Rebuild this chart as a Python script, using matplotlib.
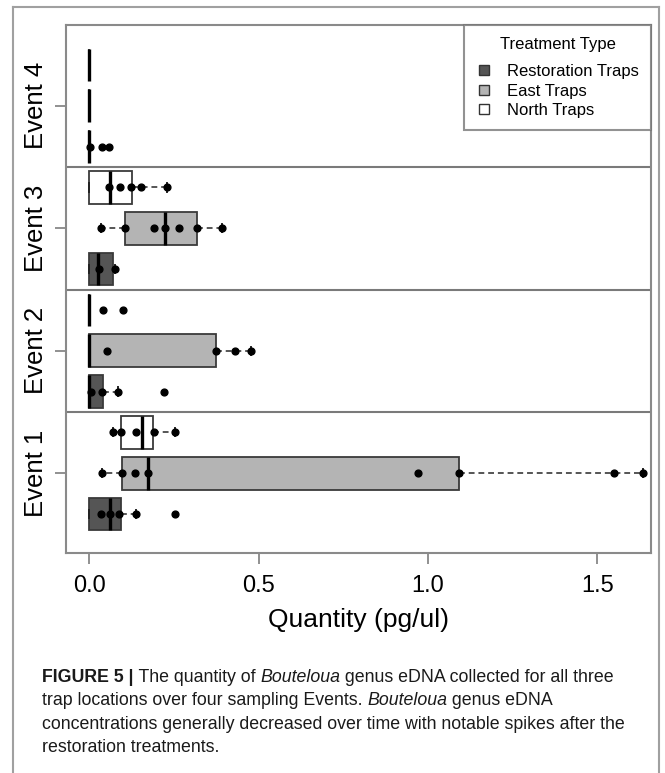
import matplotlib
matplotlib.use("Agg")
import matplotlib.pyplot as plt
from matplotlib.lines import Line2D
from matplotlib.text import Annotation
from matplotlib import font_manager as fm

# ---------------- data ----------------
events = ["Event 1", "Event 2", "Event 3", "Event 4"]
treatments = ["Restoration Traps", "East Traps", "North Traps"]
fill_colors = ["#555555", "#b4b4b4", "#ffffff"]

# box statistics, per event, order: Restoration, East, North
q1 = [[0.000, 0.096, 0.093], [0.000, 0.000, 0.000], [0.000, 0.106, 0.000], [0.0, 0.0, 0.0]]
med = [[0.062, 0.173, 0.157], [0.000, 0.000, 0.000], [0.027, 0.225, 0.062], [0.0, 0.0, 0.0]]
q3 = [[0.094, 1.090, 0.188], [0.042, 0.375, 0.000], [0.070, 0.318, 0.128], [0.0, 0.0, 0.0]]
whislo = [[0.000, 0.037, 0.070], [0.000, 0.000, 0.000], [0.000, 0.034, 0.000], [0.0, 0.0, 0.0]]
whishi = [[0.140, 1.635, 0.254], [0.086, 0.477, 0.000], [0.077, 0.393, 0.231], [0.0, 0.0, 0.0]]

# individual observations overlaid on boxes
points = [
    [[0.035, 0.062, 0.089, 0.140, 0.254],
     [0.037, 0.096, 0.136, 0.173, 0.970, 1.090, 1.550, 1.635],
     [0.070, 0.093, 0.139, 0.192, 0.254]],
    [[0.005, 0.037, 0.086, 0.222],
     [0.052, 0.375, 0.430, 0.477],
     [0.042, 0.101]],
    [[0.030, 0.077],
     [0.034, 0.106, 0.192, 0.225, 0.266, 0.318, 0.393],
     [0.058, 0.091, 0.124, 0.153, 0.231]],
    [[0.004, 0.037, 0.060],
     [],
     []],
]
xticks = [0.0, 0.5, 1.0, 1.5]
xticklabels = ["0.0", "0.5", "1.0", "1.5"]

# ---------------- fonts ----------------
names = {f.name for f in fm.fontManager.ttflist}
chart_font = "Liberation Sans" if "Liberation Sans" in names else "DejaVu Sans"
cap_font = chart_font
plt.rcParams["font.family"] = [chart_font, "DejaVu Sans"]

W, H = 665, 773
fig = plt.figure(figsize=(W / 100, H / 100), dpi=100)
fig.patch.set_facecolor("white")

L, R, T, B = 66, 651, 25, 553
ax = fig.add_axes([L / W, 1 - B / H, (R - L) / W, (B - T) / H])

stats, positions, faces = [], [], []
for i in range(len(events)):
    for j in range(len(treatments)):
        stats.append(dict(q1=q1[i][j], med=med[i][j], q3=q3[i][j],
                          whislo=whislo[i][j], whishi=whishi[i][j], fliers=[]))
        positions.append(3 * i + j + 1)
        faces.append(fill_colors[j])

bp = ax.bxp(stats, positions=positions, widths=0.8, vert=False, patch_artist=True,
            showfliers=False, capwidths=0.2,
            boxprops=dict(edgecolor="#3a3a3a", linewidth=1.3),
            medianprops=dict(color="black", linewidth=2.4, solid_capstyle="butt"),
            whiskerprops=dict(color="#555555", linewidth=1.4, linestyle=(0, (3, 2))),
            capprops=dict(color="#222222", linewidth=1.4))
for patch, fc in zip(bp["boxes"], faces):
    patch.set_facecolor(fc)

for i in range(len(events)):
    for j in range(len(treatments)):
        xs = points[i][j]
        ax.plot(xs, [3 * i + j + 1] * len(xs), "o", color="black", ms=4.9, zorder=5)

for ysep in [3.5, 6.5, 9.5]:
    ax.axhline(ysep, color="#7a7a7a", linewidth=1.5, zorder=1)

x0, scale = 89, 339.0
ax.set_xlim((L - x0) / scale, (R - x0) / scale)
ax.set_ylim(0.045, 12.98)

ax.set_xticks(xticks)
ax.set_xticklabels(xticklabels)
ax.set_yticks([3 * i + 2 for i in range(len(events))])
ax.set_yticklabels(events, rotation=90, va="center")
ax.tick_params(axis="x", length=8, width=1.3, color="#888888", pad=8, labelsize=17)
ax.tick_params(axis="y", length=8, width=1.3, color="#888888", pad=5, labelsize=18.5)
ax.set_xlabel("Quantity (pg/ul)", fontsize=19, labelpad=8)
for s in ax.spines.values():
    s.set_color("#8a8a8a")
    s.set_linewidth(1.5)

handles = [Line2D([], [], ls="none", marker="s", ms=7, mfc=c, mec="#333333", mew=1.0)
           for c in fill_colors]
leg = ax.legend(handles, treatments, title="Treatment Type", loc="upper right",
                bbox_to_anchor=(1.0, 1.0), borderaxespad=0.0, fontsize=12,
                title_fontsize=12, frameon=True, fancybox=False, labelspacing=0.27,
                handlelength=1.0, handletextpad=0.9, borderpad=0.7)
leg._legend_box.sep = 9
leg.get_frame().set_edgecolor("#777777")
leg.get_frame().set_linewidth(1.5)

# outer frame
for xs_, ys_ in [([13, 13], [7, 773]), ([13, 659], [7, 7]), ([659, 659], [7, 773])]:
    fig.add_artist(Line2D([x / W for x in xs_], [1 - y / H for y in ys_],
                          color="#a0a0a0", linewidth=1.5, transform=fig.transFigure))

# caption
cap_lines = [
    [("FIGURE 5 |", "bold", "normal"), (" The quantity of ", "normal", "normal"),
     ("Bouteloua", "normal", "italic"), (" genus eDNA collected for all three", "normal", "normal")],
    [("trap locations over four sampling Events. ", "normal", "normal"),
     ("Bouteloua", "normal", "italic"), (" genus eDNA", "normal", "normal")],
    [("concentrations generally decreased over time with notable spikes after the", "normal", "normal")],
    [("restoration treatments.", "normal", "normal")],
]
cap_bottoms = [686, 709, 733, 756]
cap_size = 12.8
for line, yb in zip(cap_lines, cap_bottoms):
    prev = None
    for txt, wt, st in line:
        if prev is None:
            prev = fig.text(42 / W, 1 - yb / H, txt, fontsize=cap_size, fontweight=wt,
                            fontstyle=st, family=[cap_font, "DejaVu Sans"], color="#1a1a1a",
                            ha="left", va="bottom")
        else:
            a = Annotation(txt, xy=(1, 0), xycoords=prev, xytext=(0, 0),
                           textcoords="offset points", ha="left", va="bottom",
                           fontsize=cap_size, fontweight=wt, fontstyle=st,
                           family=[cap_font, "DejaVu Sans"], color="#1a1a1a")
            fig.add_artist(a)
            prev = a

fig.savefig("out.png", dpi=100, facecolor="white")
